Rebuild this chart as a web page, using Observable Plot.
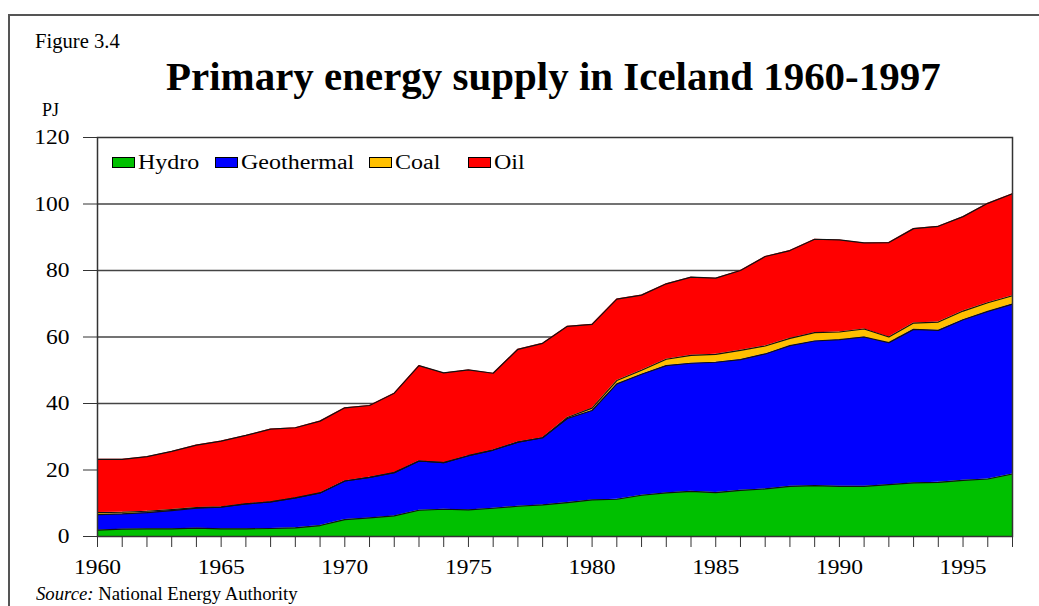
<!DOCTYPE html>
<html><head><meta charset="utf-8">
<script src="https://cdn.jsdelivr.net/npm/d3@7"></script>
<script src="https://cdn.jsdelivr.net/npm/@observablehq/plot@0.6"></script>
<style>
body{margin:0;background:#fff;}
#wrap{position:relative;width:1039px;height:606px;overflow:hidden;font-family:"Liberation Serif","Times New Roman",serif;color:#000;background:#fff;}
#wrap svg{position:absolute;left:0;top:0;}
.abs{position:absolute;white-space:nowrap;line-height:1;transform-origin:0 0;}
#outer{position:absolute;left:8px;top:14px;width:1100px;height:700px;border-left:2px solid #555;border-top:2px solid #555;}
.sw{position:absolute;width:21px;height:9px;border:1px solid #000;}
.lt{position:absolute;white-space:nowrap;line-height:1;font-size:20px;transform:scaleX(1.2);transform-origin:0 0;}
</style></head><body>
<div id="wrap">
  <div id="outer"></div>
  <div id="chart"></div>
  <div class="abs" style="left:35px;top:31px;font-size:20px;transform:scaleX(1.03);">Figure 3.4</div>
  <div class="abs" style="left:166px;top:57px;font-size:39px;font-weight:bold;transform:scaleX(1.05);">Primary energy supply in Iceland 1960-1997</div>
  <div class="abs" style="left:42px;top:101px;font-size:18px;">PJ</div>
  <div id="legend"></div>
  <div class="abs" style="left:36px;top:585px;font-size:18px;transform:scaleX(1.04);"><i>Source:</i> National Energy Authority</div>
</div>
<script>
const years = [1960,1961,1962,1963,1964,1965,1966,1967,1968,1969,1970,1971,1972,1973,1974,1975,1976,1977,1978,1979,
  1980,1981,1982,1983,1984,1985,1986,1987,1988,1989,1990,1991,1992,1993,1994,1995,1996,1997];
const series = ["Hydro","Geothermal","Coal","Oil"];
const colors = ["#00C000","#0000FF","#FFC000","#FF0000"];
const hydro = [1.9,2.2,2.3,2.3,2.5,2.3,2.3,2.4,2.6,3.3,5.1,5.6,6.2,7.9,8.2,8.0,8.5,9.1,9.5,10.2,
  11.0,11.2,12.4,13.1,13.6,13.2,13.9,14.3,15.1,15.3,15.1,15.1,15.6,16.1,16.3,16.9,17.3,18.8];
const geothermal = [4.7,4.6,4.9,5.5,6.0,6.5,7.5,8.0,9.0,9.8,11.6,12.2,13.0,14.8,14.0,16.3,17.5,19.3,20.2,25.3,
  26.9,34.7,36.4,38.3,38.5,39.2,39.3,40.6,42.3,43.5,44.1,44.9,42.7,46.2,45.7,48.3,50.4,51.1];
const coal = [0.6,0.5,0.4,0.3,0.2,0.1,0,0,0,0,0,0,0,0,0,0,0,0,0,0.3,
  0.7,1.0,1.2,1.9,2.4,2.4,2.8,2.4,2.2,2.5,2.3,2.4,1.7,1.9,2.5,2.6,2.6,2.5];
const oil = [16.0,15.9,16.4,17.5,18.8,19.8,20.6,21.9,21.1,21.6,22.0,21.6,23.9,28.7,27.0,25.8,23.1,27.9,28.4,27.4,
  25.2,24.5,22.6,22.7,23.5,22.9,24.0,26.9,26.4,28.1,27.7,25.9,28.4,28.4,28.8,28.4,29.9,30.7];
const yTicks = [0,20,40,60,80,100,120];
const xLabelYears = [1960,1965,1970,1975,1980,1985,1990,1995];

const valuesBySeries = [hydro, geothermal, coal, oil];
const rows = [];
years.forEach((yr, i) => series.forEach((s, j) => rows.push({year: yr, source: s, value: valuesBySeries[j][i]})));

const chart = Plot.plot({
  width: 1039, height: 606,
  marginLeft: 97, marginRight: 27, marginTop: 137, marginBottom: 70,
  style: {fontFamily: "'Liberation Serif', 'Times New Roman', serif", fontSize: "21px", background: "transparent", color: "#000", overflow: "visible"},
  x: {domain: [years[0], years[years.length - 1]]},
  y: {domain: [yTicks[0], yTicks[yTicks.length - 1]]},
  color: {domain: series, range: colors},
  marks: [
    Plot.ruleY(yTicks.slice(1, -1), {stroke: "#444", strokeWidth: 1.4}),
    Plot.areaY(rows, {x: "year", y: "value", z: "source", fill: "source", order: series, fillOpacity: 1}),
    Plot.lineY(rows, Plot.stackY2({x: "year", y: "value", z: "source", order: series, stroke: "#111", strokeWidth: 1.2})),
    Plot.frame({stroke: "#333", strokeWidth: 1.5}),
    Plot.axisX({ticks: years, tickFormat: d => xLabelYears.includes(d) ? String(d) : "", tickSize: 11, tickPadding: 12, label: null, stroke: "#333"}),
    Plot.axisY({ticks: yTicks, tickSize: 14, tickPadding: 14, label: null, stroke: "#333"})
  ]
});
document.getElementById("chart").appendChild(chart);

// widen tick labels slightly, anchored at their own position
chart.querySelectorAll('g[aria-label$="tick label"] text').forEach(t => {
  const tr = t.getAttribute("transform") || "";
  t.setAttribute("transform", tr + " scale(1.12,1)");
});

const legend = document.getElementById("legend");
const swLeft = [112, 215, 369, 468];
series.forEach((s, i) => {
  const sw = document.createElement("div");
  sw.className = "sw";
  sw.style.left = swLeft[i] + "px";
  sw.style.top = "157px";
  sw.style.background = colors[i];
  const t = document.createElement("div");
  t.className = "lt";
  t.style.left = (swLeft[i] + 26) + "px";
  t.style.top = "152px";
  t.textContent = s;
  legend.appendChild(sw); legend.appendChild(t);
});
</script>
</body></html>
